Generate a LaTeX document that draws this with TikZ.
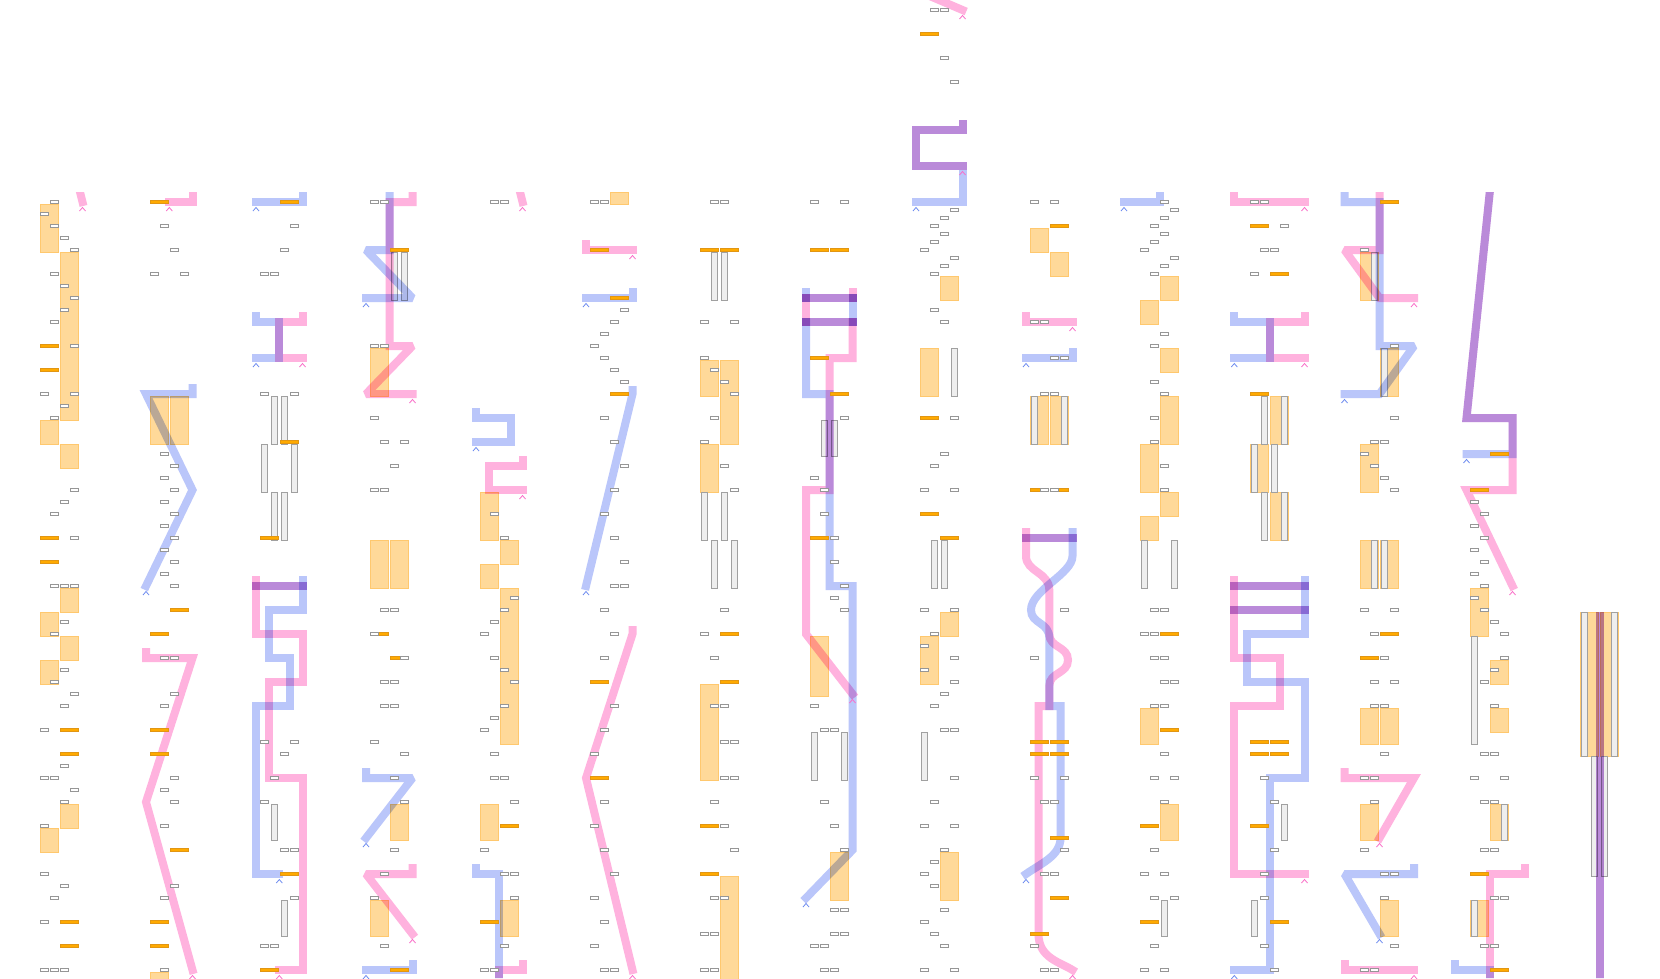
\documentclass[tikz,border=0pt]{standalone}
\usepackage{tikz}
\usetikzlibrary{calc}
\definecolor{laneblue}{RGB}{186,198,250}
\definecolor{lanepink}{RGB}{255,178,222}
\definecolor{tipblue}{RGB}{110,140,240}
\definecolor{tippink}{RGB}{250,110,200}
\definecolor{slotgray}{RGB}{150,150,150}
\definecolor{barorange}{RGB}{255,170,0}
\definecolor{barline}{RGB}{225,150,20}
\definecolor{blockfill}{RGB}{255,217,153}
\definecolor{blockline}{RGB}{255,200,110}
\definecolor{stripline}{RGB}{160,160,160}
\definecolor{stripfill}{RGB}{238,238,238}
% small shapes, x = left edge of the lane, y = row centre
\newcommand{\gslot}[2]{\draw[slotbox] (#1,#2-1.2) rectangle ++(8.4,2.4);}
\newcommand{\ostrip}[2]{\draw[tickbar] (#1,#2-1.3) rectangle ++(18.7,2.6);}
\newcommand{\oblock}[3]{\draw[block] (#1,#2+2) rectangle (#1+18.7,#3+2);}
\newcommand{\vstrip}[3]{\draw[strip] (#1+1,#2+2) rectangle (#1+7.5,#3+2);}
\newcommand{\lanetip}[3]{\draw[#3] (#1-3,#2+9) -- (#1,#2+5.5) -- (#1+3,#2+9);}

\begin{document}
\begin{tikzpicture}[x=1pt,y=-1pt,
    slotbox/.style={draw=slotgray, fill=white, line width=0.7pt},
    tickbar/.style={draw=barline, fill=barorange, line width=0.5pt},
    block/.style={draw=blockline, fill=blockfill, line width=0.7pt},
    strip/.style={draw=stripline, fill=stripfill, line width=0.7pt},
    bpath/.style={draw=laneblue, line width=8pt, line cap=rect, miter limit=2},
    ppath/.style={draw=lanepink, line width=8pt, line cap=rect, miter limit=2},
    btip/.style={draw=tipblue, line width=0.8pt},
    ptip/.style={draw=tippink, line width=0.8pt}]
    \useasboundingbox (0,0) rectangle (1660,978);
    \fill[white] (0,0) rectangle (1660,978);

    % --- orange blocks (lane pairs) ---
    \foreach \i/\ya/\yb in {0/202/250,2/250/418,0/418/442,2/442/466,2/586/610,0/610/634,2/634/658,0/658/682,2/802/826,0/826/850} {\oblock{40+10*\i}{\ya}{\yb}}
    \foreach \i/\ya/\yb in {0/394/442,2/394/442,0/970/990} {\oblock{150+10*\i}{\ya}{\yb}}
    \foreach \i/\ya/\yb in {0/346/394,0/538/586,2/538/586,2/802/838,0/898/934} {\oblock{370+10*\i}{\ya}{\yb}}
    \foreach \i/\ya/\yb in {0/490/538,2/538/562,0/562/586,2/586/742,0/802/838,2/898/934} {\oblock{480+10*\i}{\ya}{\yb}}
    \oblock{610}{190}{202}
    \foreach \i/\ya/\yb in {0/358/394,2/358/442,0/442/490,0/682/778,2/874/990} {\oblock{700+10*\i}{\ya}{\yb}}
    \foreach \i/\ya/\yb in {0/634/694,2/850/898} {\oblock{810+10*\i}{\ya}{\yb}}
    \foreach \i/\ya/\yb in {2/274/298,0/346/394,2/610/634,0/634/682,2/850/898} {\oblock{920+10*\i}{\ya}{\yb}}
    \foreach \i/\ya/\yb in {0/226/250,2/250/274,0/394/442,2/394/442} {\oblock{1030+10*\i}{\ya}{\yb}}
    \foreach \i/\ya/\yb in {2/274/298,0/298/322,2/346/370,2/394/442,0/442/490,2/490/514,0/514/538,0/706/742,2/802/838} {\oblock{1140+10*\i}{\ya}{\yb}}
    \foreach \i/\ya/\yb in {2/394/442,0/442/490,2/490/538} {\oblock{1250+10*\i}{\ya}{\yb}}
    \foreach \i/\ya/\yb in {0/250/298,2/346/394,0/442/490,0/538/586,2/538/586,0/706/742,2/706/742,0/802/838,2/898/934} {\oblock{1360+10*\i}{\ya}{\yb}}
    \foreach \i/\ya/\yb in {0/586/634,2/658/682,2/706/730,2/802/838,0/898/934} {\oblock{1470+10*\i}{\ya}{\yb}}
    \foreach \i/\ya/\yb in {0/610/754,2/610/754} {\oblock{1580+10*\i}{\ya}{\yb}}

    % --- grey strips ---
    \foreach \i/\ya/\yb in {1/394/442,2/394/442,0/442/490,3/442/490,1/490/538,2/490/538,1/802/838,2/898/934} {\vstrip{260+10*\i}{\ya}{\yb}}
    \foreach \i/\ya/\yb in {2/250/298,3/250/298} {\vstrip{370+10*\i}{\ya}{\yb}}
    \foreach \i/\ya/\yb in {1/250/298,2/250/298,0/490/538,2/490/538,1/538/586,3/538/586} {\vstrip{700+10*\i}{\ya}{\yb}}
    \foreach \i/\ya/\yb in {1/418/454,2/418/454,0/730/778,3/730/778} {\vstrip{810+10*\i}{\ya}{\yb}}
    \foreach \i/\ya/\yb in {3/346/394,1/538/586,2/538/586,0/730/778} {\vstrip{920+10*\i}{\ya}{\yb}}
    \foreach \i/\ya/\yb in {0/394/442,3/394/442} {\vstrip{1030+10*\i}{\ya}{\yb}}
    \foreach \i/\ya/\yb in {0/538/586,3/538/586,2/898/934} {\vstrip{1140+10*\i}{\ya}{\yb}}
    \foreach \i/\ya/\yb in {1/394/442,3/394/442,0/442/490,2/442/490,1/490/538,3/490/538,3/802/838,0/898/934} {\vstrip{1250+10*\i}{\ya}{\yb}}
    \foreach \i/\ya/\yb in {1/250/298,2/346/394,1/538/586,2/538/586} {\vstrip{1360+10*\i}{\ya}{\yb}}
    \foreach \i/\ya/\yb in {0/634/742,3/802/838,0/898/934} {\vstrip{1470+10*\i}{\ya}{\yb}}
    \foreach \i/\ya/\yb in {0/610/754,3/610/754,1/754/874,2/754/874} {\vstrip{1580+10*\i}{\ya}{\yb}}

    % --- routed lanes (blue and pink, purple where they share) ---
    \begin{scope}[blend mode=multiply]
    \clip (0,192) rectangle (1660,978) (900,0) rectangle (990,192);
    % panel 1
    \draw[ppath] (78.5,186) -- (82.5,202);
    % panel 2
    \draw[ppath] (192.5,186) -- (192.5,202) -- (169.3,202);
    \draw[bpath] (192.5,388) -- (192.5,394) -- (146,394) -- (192.5,490) -- (146,586);
    \draw[ppath] (146,652) -- (146,658) -- (192.5,658) -- (146,802) -- (192.5,970);
    % panel 3
    \draw[bpath] (302.5,186) -- (302.5,202) -- (256,202);
    \draw[bpath] (256,316) -- (256,322) -- (279.3,322) -- (279.3,358) -- (256,358);
    \draw[ppath] (302.5,316) -- (302.5,322) -- (279.3,322) -- (279.3,358) -- (302.5,358);
    \draw[bpath] (256,586) -- (302.5,586);
    \draw[ppath] (256,586) -- (302.5,586);
    \draw[ppath] (256,580) -- (256,634) -- (302.5,634) -- (302.5,682) -- (269,682) -- (269,778) -- (302.5,778) -- (302.5,970) -- (279.3,970);
    \draw[bpath] (302.5,580) -- (302.5,610) -- (269,610) -- (269,658) -- (290,658) -- (290,706) -- (256,706) -- (256,874) -- (279.3,874);
    % panel 4
    \draw[ppath] (412.5,186) -- (412.5,202) -- (389.5,202) -- (389.5,346) -- (412.5,346) -- (366,394) -- (412.5,394);
    \draw[bpath] (389.5,186) -- (389.5,250) -- (366,250) -- (412.5,298) -- (366,298);
    \draw[bpath] (366,772) -- (366,778) -- (412.5,778) -- (366,838);
    \draw[ppath] (412.5,868) -- (412.5,874) -- (366,874) -- (412.5,934);
    \draw[bpath] (412.5,964) -- (412.5,970) -- (366,970);
    % panel 5
    \draw[ppath] (518.5,186) -- (522.5,202);
    \draw[bpath] (476,412) -- (476,418) -- (510.5,418) -- (510.5,442) -- (476,442);
    \draw[ppath] (522.5,460) -- (522.5,466) -- (488.5,466) -- (488.5,490) -- (522.5,490);
    \draw[bpath] (476,868) -- (476,874) -- (499.3,874) -- (499.3,990);
    \draw[ppath] (522.5,964) -- (522.5,970) -- (499.3,970) -- (499.3,990);
    % panel 6
    \draw[ppath] (586,244) -- (586,250) -- (632.5,250);
    \draw[bpath] (632.5,292) -- (632.5,298) -- (586,298);
    \draw[bpath] (632.5,390) -- (632.5,394) -- (586,586);
    \draw[ppath] (632.5,630) -- (632.5,634) -- (586,778) -- (632.5,970);
    % panel 8
    \draw[bpath] (806,292) -- (806,298);
    \draw[ppath] (852.5,292) -- (852.5,298);
    \draw[ppath] (806,298) -- (806,322);
    \draw[bpath] (852.5,298) -- (852.5,322);
    \foreach \y in {298,322} {
      \draw[bpath] (806,\y) -- (852.5,\y);
      \draw[ppath] (806,\y) -- (852.5,\y);
    }
    \draw[ppath] (852.5,322) -- (852.5,358) -- (829.5,358) -- (829.5,490) -- (806,490) -- (806,634) -- (852.5,694);
    \draw[bpath] (806,322) -- (806,394) -- (829.5,394) -- (829.5,586) -- (852.5,586) -- (852.5,850) -- (806,898);
    % panel 9
    \draw[ppath] (925,-6) -- (962.5,10);
    \draw[ppath] (962.5,124) -- (962.5,130) -- (916,130) -- (916,166) -- (962.5,166);
    \draw[bpath] (962.5,124) -- (962.5,130) -- (916,130) -- (916,166) -- (962.5,166) -- (962.5,202) -- (916,202);
    % panel 10
    \draw[ppath] (1026,316) -- (1026,322) -- (1072.5,322);
    \draw[bpath] (1072.5,352) -- (1072.5,358) -- (1026,358);
    \draw[bpath] (1026,538) -- (1072.5,538);
    \draw[ppath] (1026,538) -- (1072.5,538);
    \draw[ppath] (1026,532) -- (1026,556) .. controls (1026,572) and (1049.3,572) .. (1049.3,590) -- (1049.3,634)
        .. controls (1049.3,648) and (1068,646) .. (1068,660) .. controls (1068,674) and (1049.3,672) .. (1049.3,686)
        -- (1049.3,706) -- (1038.5,706) -- (1038.5,934) .. controls (1038.5,958) and (1060,962) .. (1072.5,970);
    \draw[bpath] (1072.5,532) -- (1072.5,556) .. controls (1072.5,574) and (1031,590) .. (1031,610)
        .. controls (1031,624) and (1049.3,622) .. (1049.3,638) -- (1049.3,706) -- (1060.5,706) -- (1060.5,838)
        .. controls (1060.5,856) and (1040,864) .. (1026,874);
    % panel 11
    \draw[bpath] (1160,186) -- (1160,202) -- (1124,202);
    % panel 12
    \draw[ppath] (1234.3,196) -- (1234.3,202) -- (1304.5,202);
    \draw[bpath] (1234.3,316) -- (1234.3,322) -- (1269.5,322) -- (1269.5,358) -- (1234.3,358);
    \draw[ppath] (1304.5,316) -- (1304.5,322) -- (1269.5,322) -- (1269.5,358) -- (1304.5,358);
    \foreach \y in {586,610} {
      \draw[bpath] (1234.3,\y) -- (1304.5,\y);
      \draw[ppath] (1234.3,\y) -- (1304.5,\y);
    }
    \draw[bpath] (1304.5,580) -- (1304.5,634) -- (1247,634) -- (1247,682) -- (1304.5,682) -- (1304.5,778) -- (1269.5,778) -- (1269.5,970) -- (1234.3,970);
    \draw[ppath] (1234.3,580) -- (1234.3,658) -- (1280.4,658) -- (1280.4,706) -- (1234.3,706) -- (1234.3,874) -- (1304.5,874);
    % panel 13
    \draw[ppath] (1379.5,186) -- (1379.5,250) -- (1344.5,250) -- (1379.5,298) -- (1414,298);
    \draw[bpath] (1344.5,196) -- (1344.5,202) -- (1379.5,202) -- (1379.5,346) -- (1414,346) -- (1379.5,394) -- (1344.5,394);
    \draw[ppath] (1344.5,772) -- (1344.5,778) -- (1414,778) -- (1379.5,838);
    \draw[bpath] (1414,868) -- (1414,874) -- (1344.5,874) -- (1379.5,934);
    \draw[ppath] (1344.5,964) -- (1344.5,970) -- (1414,970);
    % panel 14
    \draw[bpath] (1491,180) -- (1466.5,418) -- (1512.5,418) -- (1512.5,454) -- (1466.5,454);
    \draw[ppath] (1491,180) -- (1466.5,418) -- (1512.5,418) -- (1512.5,490) -- (1466.5,490) -- (1512.5,586);
    \draw[ppath] (1525,868) -- (1525,874) -- (1490,874) -- (1490,990);
    \draw[bpath] (1454.5,964) -- (1454.5,970) -- (1490,970) -- (1490,990);
    % panel 15
    \draw[bpath] (1599.5,616) -- (1599.5,990);
    \draw[ppath] (1599.5,616) -- (1599.5,990);
    \end{scope}

    % --- lane end marks ---
    \foreach \x/\y in {82.5/202,169.3/202,192.5/970,302.5/358,279.3/970,412.5/394,412.5/934,522.5/202,522.5/490,632.5/250,632.5/970,852.5/694,962.5/10,962.5/166,1072.5/322,1072.5/970,1304.5/202,1304.5/358,1304.5/874,1414/298,1379.5/838,1414/970,1512.5/586} {\lanetip{\x}{\y}{ptip}}
    \foreach \x/\y in {146/586,256/202,256/358,279.3/874,366/298,366/838,366/970,476/442,586/298,586/586,806/898,916/202,1026/358,1026/874,1124/202,1234.3/358,1234.3/970,1344.5/394,1379.5/934,1466.5/454} {\lanetip{\x}{\y}{btip}}

    % --- orange ticks ---
    \foreach \i/\y in {0/346,0/370,0/538,0/562,2/730,2/754,2/922,2/946} {\ostrip{40+10*\i}{\y}}
    \foreach \i/\y in {0/202,2/610,0/634,0/730,0/754,2/850,0/922,0/946} {\ostrip{150+10*\i}{\y}}
    \foreach \i/\y in {2/202,2/442,0/538,2/874,0/970} {\ostrip{260+10*\i}{\y}}
    \foreach \i/\y in {2/250,0/634,2/658,2/970} {\ostrip{370+10*\i}{\y}}
    \foreach \i/\y in {2/826,0/922} {\ostrip{480+10*\i}{\y}}
    \foreach \i/\y in {0/250,2/298,2/394,0/682,0/778} {\ostrip{590+10*\i}{\y}}
    \foreach \i/\y in {0/250,2/250,2/634,2/682,0/826,0/874} {\ostrip{700+10*\i}{\y}}
    \foreach \i/\y in {0/250,2/250,0/358,2/394,0/538} {\ostrip{810+10*\i}{\y}}
    \foreach \i/\y in {0/34,0/418,0/514,2/538} {\ostrip{920+10*\i}{\y}}
    \foreach \i/\y in {2/226,0/490,2/490,0/742,2/742,0/754,2/754,2/838,2/898,0/934} {\ostrip{1030+10*\i}{\y}}
    \foreach \i/\y in {2/634,2/730,0/826,0/922} {\ostrip{1140+10*\i}{\y}}
    \foreach \i/\y in {0/226,2/274,0/394,0/742,2/742,0/754,2/754,0/826,2/922} {\ostrip{1250+10*\i}{\y}}
    \foreach \i/\y in {2/202,2/634,0/658} {\ostrip{1360+10*\i}{\y}}
    \foreach \i/\y in {2/454,0/490,0/874,2/970} {\ostrip{1470+10*\i}{\y}}

    % --- grey slots ---
    \foreach \i/\y in {1/202,0/214,1/226,2/238,3/250,1/274,2/286,3/298,2/310,1/322,3/346,0/394,3/394,2/406,1/418,3/490,2/502,1/514,3/538,1/586,2/586,3/586,2/622,1/634,2/670,1/682,3/694,2/706,0/730,2/766,0/778,1/778,3/790,2/802,0/826,0/874,2/886,1/898,0/922,0/970,1/970,2/970} {\gslot{40+10*\i}{\y}}
    \foreach \i/\y in {1/226,2/250,0/274,3/274,1/454,2/466,1/478,2/490,1/502,2/514,1/526,2/538,1/550,2/562,1/574,2/586,1/658,2/658,2/694,1/706,2/778,1/790,2/802,1/826,2/886,1/898,1/970} {\gslot{150+10*\i}{\y}}
    \foreach \i/\y in {3/226,2/250,0/274,1/274,0/394,3/394,0/742,3/742,2/754,1/778,0/802,2/850,3/850,3/898,0/946,1/946} {\gslot{260+10*\i}{\y}}
    \foreach \i/\y in {0/202,1/202,0/346,1/346,0/418,1/442,3/442,2/466,0/490,1/490,1/610,2/610,0/634,3/658,1/682,2/682,1/706,2/706,0/742,3/754,2/778,3/802,2/850,1/874,0/898,1/946} {\gslot{370+10*\i}{\y}}
    \foreach \i/\y in {1/202,2/202,1/514,2/538,3/598,2/610,1/622,0/634,1/658,2/670,3/682,2/706,1/718,0/730,1/754,1/778,2/778,3/802,0/850,2/874,3/874,3/898,2/946,0/970,1/970} {\gslot{480+10*\i}{\y}}
    \foreach \i/\y in {0/202,1/202,3/310,2/322,1/334,0/346,1/358,2/370,3/382,1/418,2/442,3/466,2/490,1/514,2/538,3/562,2/586,3/586,1/610,2/634,1/658,2/706,1/730,0/754,1/802,0/826,1/850,2/874,0/898,1/922,0/946,1/970,2/970} {\gslot{590+10*\i}{\y}}
    \foreach \i/\y in {1/202,2/202,0/322,3/322,0/358,1/370,2/382,3/394,1/418,0/442,2/466,3/490,2/610,0/634,1/658,1/706,2/706,2/742,3/742,2/778,3/778,1/802,2/826,3/850,1/898,2/898,0/934,1/934,0/970,1/970} {\gslot{700+10*\i}{\y}}
    \foreach \i/\y in {0/202,3/202,3/418,0/478,1/490,1/514,2/538,2/562,3/586,2/598,3/610,0/706,1/730,2/730,1/802,2/826,3/850,2/910,3/910,2/934,3/934,0/946,1/946,1/970,2/970} {\gslot{810+10*\i}{\y}}
    \foreach \i/\y in {1/10,2/10,2/58,3/82,3/210,2/218,1/226,2/234,1/242,0/250,3/258,2/266,1/274,1/310,2/322,3/418,2/454,1/466,0/490,3/490,0/610,3/610,1/634,0/646,3/658,0/670,3/682,2/694,1/706,2/730,3/730,3/778,1/802,0/826,3/826,2/850,1/862,0/874,1/886,2/910,0/922,1/934,2/946,0/970,3/970} {\gslot{920+10*\i}{\y}}
    \foreach \i/\y in {0/202,2/202,0/322,1/322,2/358,3/358,1/394,2/394,1/490,2/490,3/610,0/658,0/778,3/778,1/802,2/802,3/850,1/874,2/874,0/946,1/970,2/970} {\gslot{1030+10*\i}{\y}}
    \foreach \i/\y in {2/202,3/210,2/218,1/226,2/234,1/242,0/250,3/258,2/266,1/274,2/334,1/346,1/382,2/394,1/418,1/442,2/466,2/490,1/610,2/610,0/634,1/634,1/658,2/658,2/682,3/682,1/706,2/706,2/754,1/778,3/778,2/802,1/850,0/874,2/874,1/898,3/898,1/946,0/970,2/970} {\gslot{1140+10*\i}{\y}}
    \foreach \i/\y in {0/202,1/202,3/226,1/250,2/250,0/274,1/778,2/802,2/850,1/874,1/898,1/946,2/970} {\gslot{1250+10*\i}{\y}}
    \foreach \i/\y in {0/250,3/346,3/418,1/442,2/442,0/454,1/466,2/478,3/490,0/610,3/610,1/634,2/658,1/682,3/682,1/706,2/706,2/754,0/778,1/778,1/802,0/850,2/874,3/874,2/898,3/946,0/970,1/970} {\gslot{1360+10*\i}{\y}}
    \foreach \i/\y in {0/502,1/514,0/526,1/538,0/550,1/562,0/574,1/586,0/598,1/610,2/622,3/634,3/658,2/670,1/682,2/706,1/754,2/754,0/778,3/778,1/802,2/802,1/850,2/850,2/898,3/898,1/946,2/946} {\gslot{1470+10*\i}{\y}}
\end{tikzpicture}
\end{document}
